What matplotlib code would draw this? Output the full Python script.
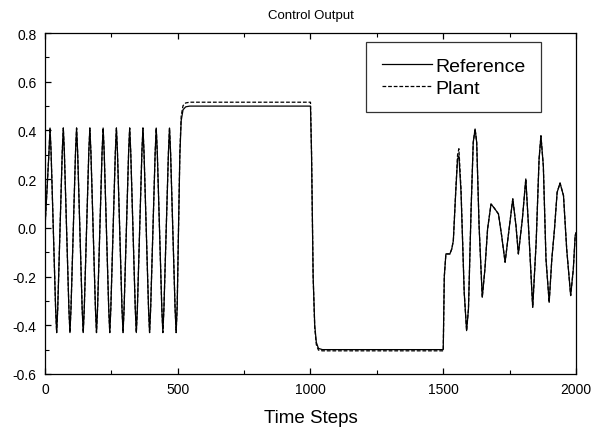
import numpy as np
import matplotlib
matplotlib.use("Agg")
import matplotlib.pyplot as plt
from matplotlib.ticker import MultipleLocator, FormatStrFormatter

plt.rcParams['font.family'] = ['Liberation Sans', 'DejaVu Sans']

# sinusoidal part (0-500): start, then shoulder / peak / shoulder for each crest
osc_t = [0,
         15, 19, 23, 40, 44, 48,
         65, 69, 73, 90, 94, 98,
         115, 119, 123, 140, 144, 148,
         165, 169, 173, 190, 194, 198,
         215, 219, 223, 240, 244, 248,
         265, 269, 273, 290, 294, 298,
         315, 319, 323, 340, 344, 348,
         365, 369, 373, 390, 394, 398,
         415, 419, 423, 440, 444, 448,
         465, 469, 473, 490, 494]
osc_v = [0.0,
         0.31, 0.41, 0.31, -0.33, -0.43, -0.33,
         0.31, 0.41, 0.31, -0.33, -0.43, -0.33,
         0.31, 0.41, 0.31, -0.33, -0.43, -0.33,
         0.31, 0.41, 0.31, -0.33, -0.43, -0.33,
         0.31, 0.41, 0.31, -0.33, -0.43, -0.33,
         0.31, 0.41, 0.31, -0.33, -0.43, -0.33,
         0.31, 0.41, 0.31, -0.33, -0.43, -0.33,
         0.31, 0.41, 0.31, -0.33, -0.43, -0.33,
         0.31, 0.41, 0.31, -0.33, -0.43, -0.33,
         0.31, 0.41, 0.31, -0.33, -0.43]

# step up, hold, step down, hold
step_t = [498, 503, 508, 513, 520, 530, 545, 1000, 1004, 1010, 1016, 1022, 1030, 1045, 1500, 1504]
ref_step_v = [-0.32, 0.0, 0.3, 0.44, 0.485, 0.497, 0.5, 0.5, 0.3, -0.2, -0.4, -0.47, -0.495, -0.5, -0.5, -0.2]
plant_step_v = [-0.32, 0.0, 0.31, 0.46, 0.502, 0.513, 0.516, 0.516, 0.31, -0.2, -0.41, -0.48, -0.502, -0.505, -0.505, -0.2]

# irregular part (1510-2000)
irr_t = [1510, 1525, 1532, 1538, 1547, 1554, 1559, 1567, 1579, 1588, 1595, 1605, 1613,
         1620, 1626, 1635, 1647, 1657, 1667, 1680, 1693, 1708, 1720, 1733, 1748, 1762,
         1774, 1783, 1798, 1811, 1821, 1837, 1850, 1861, 1868, 1877, 1887, 1899, 1909,
         1919, 1929, 1940, 1953, 1965, 1980, 1990, 1997, 2000]
ref_irr_v = [-0.107, -0.107, -0.087, -0.053, 0.146, 0.283, 0.296, 0.146, -0.265, -0.422, -0.333, 0.078, 0.351,
             0.406, 0.351, 0.009, -0.285, -0.169, -0.005, 0.098, 0.080, 0.057, -0.032, -0.141, -0.005, 0.119,
             0.009, -0.107, 0.036, 0.201, 0.009, -0.326, -0.059, 0.283, 0.378, 0.255, -0.128, -0.306, -0.128,
             -0.005, 0.146, 0.184, 0.132, -0.087, -0.278, -0.169, -0.032, -0.02]
plant_irr_v = [-0.107, -0.107, -0.087, -0.053, 0.15, 0.30, 0.325, 0.16, -0.265, -0.422, -0.333, 0.078, 0.351,
               0.406, 0.351, 0.009, -0.285, -0.169, -0.005, 0.098, 0.080, 0.057, -0.032, -0.141, -0.005, 0.119,
               0.009, -0.107, 0.036, 0.201, 0.009, -0.326, -0.059, 0.283, 0.378, 0.255, -0.128, -0.306, -0.128,
               -0.005, 0.146, 0.184, 0.132, -0.087, -0.278, -0.169, -0.032, -0.02]

ref_t = osc_t + step_t + irr_t
ref_v = osc_v + ref_step_v + ref_irr_v
plant_t = osc_t + step_t + irr_t
plant_v = osc_v + plant_step_v + plant_irr_v

fig = plt.figure(figsize=(6.03, 4.31), dpi=100)
ax = fig.add_axes([0.0746, 0.130, 0.8806, 0.791])

ax.plot(ref_t, ref_v, color='black', linewidth=0.9, label='Reference')
ax.plot(plant_t, plant_v, color='black', linewidth=0.9, linestyle=(0, (3, 1.5)), label='Plant')

ax.set_xlim(0, 2000)
ax.set_ylim(-0.6, 0.8)
ax.xaxis.set_major_locator(MultipleLocator(500))
ax.xaxis.set_minor_locator(MultipleLocator(250))
ax.yaxis.set_major_locator(MultipleLocator(0.2))
ax.yaxis.set_minor_locator(MultipleLocator(0.1))
ax.yaxis.set_major_formatter(FormatStrFormatter('%.1f'))
ax.tick_params(which='both', direction='in', top=True, right=False, labelsize=10)
ax.tick_params(axis='x', pad=6)
ax.tick_params(axis='y', pad=6)
ax.tick_params(which='major', length=4, width=0.9)
ax.tick_params(which='minor', length=3, width=0.8)
for s in ax.spines.values():
    s.set_linewidth(0.9)

ax.set_title('Control Output', fontsize=9.5, pad=11)
ax.set_xlabel('Time Steps', fontsize=13.5, labelpad=9)

leg = ax.legend(loc='upper right', bbox_to_anchor=(0.934, 0.974), fontsize=14,
                frameon=True, fancybox=False, edgecolor='black', handlelength=2.6,
                borderpad=0.8, labelspacing=0.2, handletextpad=0.15, borderaxespad=0.0)
leg.get_frame().set_linewidth(0.9)

fig.savefig('out.png', dpi=100)
